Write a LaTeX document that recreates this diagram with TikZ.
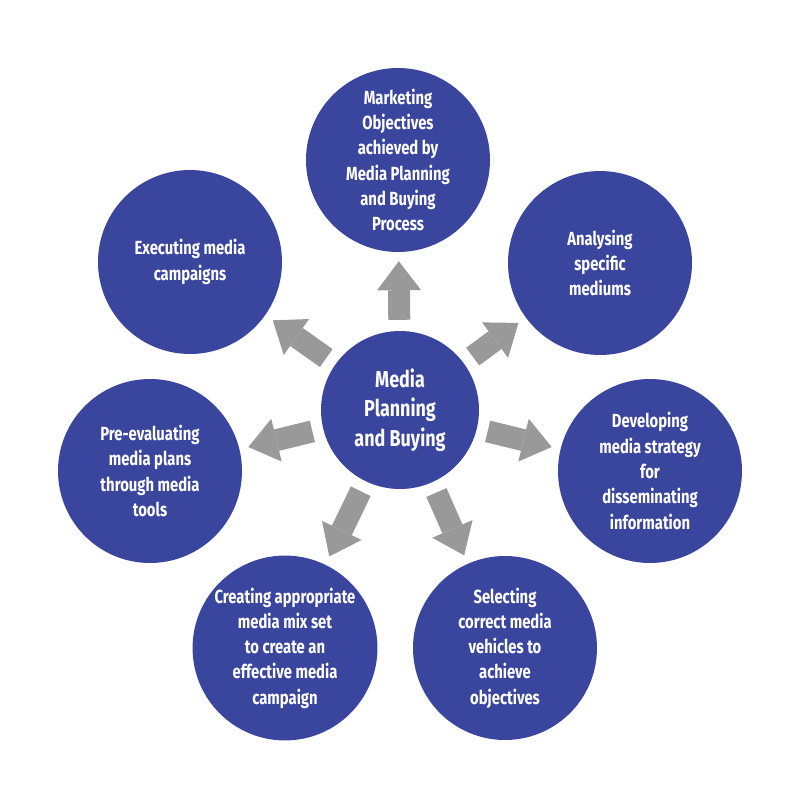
\documentclass[tikz,border=0pt]{standalone}
\usepackage{fontspec}
\setmainfont[FakeStretch=0.78]{Fira Sans}
\usetikzlibrary{arrows.meta}
\definecolor{planblue}{RGB}{58,69,158}
\definecolor{arrowgrey}{RGB}{153,153,153}
\tikzset{
  bubble/.style={circle, fill=planblue, text=white, align=center, inner sep=0pt,
    minimum size=184pt, font=\bfseries\fontsize{19}{25.3}\selectfont},
  hub/.style={bubble, minimum size=158pt, font=\bfseries\fontsize{23}{29.5}\selectfont},
  fatarrow/.style={draw=arrowgrey, line width=22pt,
    -{Triangle[width=44pt,length=29pt,line width=0pt]}, shorten <=11pt, shorten >=9pt}
}
\begin{document}
\begin{tikzpicture}[x=1pt,y=-1pt]
\useasboundingbox (0,0) rectangle (800,800);
% centre and the seven steps
\node[hub] (hub) at (400,410) {Media\\Planning\\and Buying};
\node[bubble] (goal) at (398,160) {Marketing\\Objectives\\achieved by\\Media Planning\\and Buying\\Process};
\node[bubble] (analyse) at (600,263) {Analysing\\specific\\mediums};
\node[bubble] (strategy) at (650,471) {Developing\\media strategy\\for\\disseminating\\information};
\node[bubble] (vehicles) at (505,648) {Selecting\\correct media\\vehicles to\\achieve\\objectives};
\node[bubble] (mix) at (285,648) {Creating appropriate\\media mix set\\to create an\\effective media\\campaign};
\node[bubble] (preeval) at (150,471) {Pre-evaluating\\media plans\\through media\\tools};
\node[bubble] (execute) at (190,262) {Executing media\\campaigns};
% arrows out of the centre
\draw[fatarrow] (hub) -- (goal);
\draw[fatarrow] (hub) -- (analyse);
\draw[fatarrow] (hub) -- (strategy);
\draw[fatarrow] (hub) -- (vehicles);
\draw[fatarrow] (hub) -- (mix);
\draw[fatarrow] (hub) -- (preeval);
\draw[fatarrow] (hub) -- (execute);
\end{tikzpicture}
\end{document}
